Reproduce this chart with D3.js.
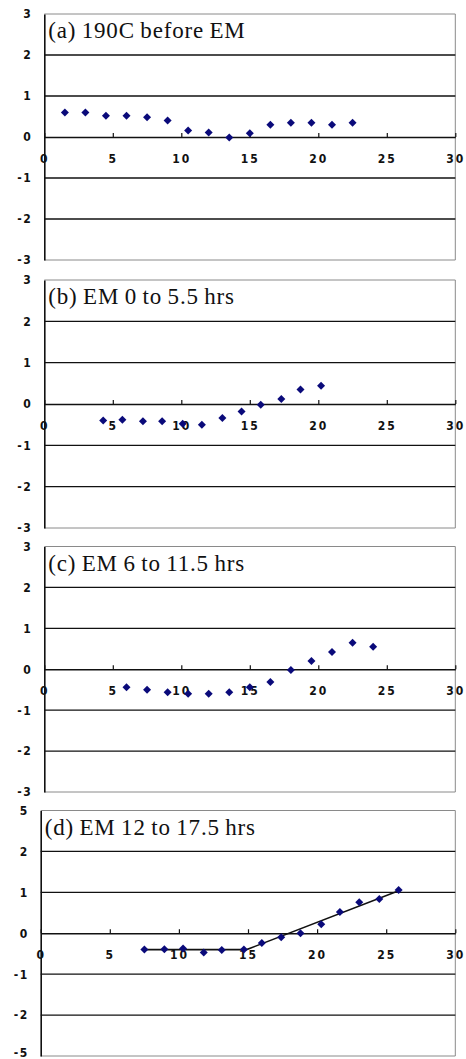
<!DOCTYPE html>
<html>
<head>
    <title>EM panels</title>
    <style type="text/css">
        body { margin: 0; background: #fff; }
        svg text.tick-lbl {
            font-family: "DejaVu Sans Condensed", "Liberation Sans", Arial, sans-serif;
            font-size: 12px;
            font-weight: bold;
            fill: #111;
        }
        svg text.title {
            font-family: "Liberation Serif", "DejaVu Serif", serif;
            font-size: 23px;
            letter-spacing: 0.8px;
            word-spacing: -1px;
            fill: #111;
        }
    </style>
</head>
<body>
<script src="https://cdnjs.cloudflare.com/ajax/libs/d3/7.8.5/d3.min.js"></script>
<script type="text/javascript">

    // tick values and their labels
    var xTicks = [0, 5, 10, 15, 20, 25, 30];
    var xTickLabels = ['0', '5', '10', '15', '20', '25', '30'];
    var yTicks = [3, 2, 1, 0, -1, -2, -3];
    var yTickLabels = ['3', '2', '1', '0', '-1', '-2', '-3'];
    var yTickLabelsD = ['5', '2', '1', '0', '-1', '-2', '-5'];   // as printed on panel (d)

    var titles = ['(a) 190C before EM', '(b) EM 0 to 5.5 hrs', '(c) EM 6 to 11.5 hrs', '(d) EM 12 to 17.5 hrs'];

    // (a) 190C before EM
    var xA = [1.5, 3, 4.5, 6, 7.5, 9, 10.5, 12, 13.5, 15, 16.5, 18, 19.5, 21, 22.5];
    var yA = [0.6, 0.6, 0.52, 0.52, 0.48, 0.4, 0.16, 0.11, -0.01, 0.09, 0.3, 0.35, 0.35, 0.3, 0.35];
    // (b) EM 0 to 5.5 hrs
    var xB = [4.3, 5.7, 7.2, 8.6, 10.1, 11.5, 13.0, 14.4, 15.8, 17.3, 18.7, 20.2];
    var yB = [-0.4, -0.38, -0.42, -0.42, -0.48, -0.5, -0.34, -0.18, -0.02, 0.12, 0.35, 0.44];
    // (c) EM 6 to 11.5 hrs
    var xC = [6, 7.5, 9, 10.5, 12, 13.5, 15, 16.5, 18, 19.5, 21, 22.5, 24];
    var yC = [-0.44, -0.5, -0.56, -0.6, -0.6, -0.56, -0.44, -0.31, -0.02, 0.2, 0.42, 0.65, 0.55];
    // (d) EM 12 to 17.5 hrs
    var xD = [7.5, 8.95, 10.3, 11.8, 13.1, 14.7, 16.0, 17.4, 18.8, 20.3, 21.65, 23.05, 24.5, 25.9];
    var yD = [-0.4, -0.39, -0.37, -0.47, -0.41, -0.4, -0.24, -0.1, 0.0, 0.22, 0.52, 0.76, 0.84, 1.06];
    // fitted line on (d)
    var fitX = [7.5, 14.9, 26];
    var fitY = [-0.4, -0.4, 1.05];

    var panels = [
        { title: titles[0], xs: xA, ys: yA, yLabels: yTickLabels, left: 44.3, top: 14, bottom: 260 },
        { title: titles[1], xs: xB, ys: yB, yLabels: yTickLabels, left: 44.3, top: 280, bottom: 528 },
        { title: titles[2], xs: xC, ys: yC, yLabels: yTickLabels, left: 44.3, top: 546.5, bottom: 792 },
        { title: titles[3], xs: xD, ys: yD, yLabels: yTickLabelsD, left: 40.7, top: 810.5, bottom: 1056,
          fitX: fitX, fitY: fitY }
    ];
    var right = 455.3;

    var svg = d3.select('body').append('svg')
        .attr('width', 466)
        .attr('height', 1059);

    svg.append('rect').attr('width', 466).attr('height', 1059).attr('fill', '#fff');

    var diamond = d3.symbol().type(d3.symbolSquare).size(32);

    panels.forEach(function (p, pi) {
        var x = d3.scaleLinear().domain([0, 30]).range([p.left, right]);
        var y = d3.scaleLinear().domain([-3, 3]).range([p.bottom, p.top]);
        var g = svg.append('g');

        // frame: grey top/right/bottom
        g.append('path')
            .attr('d', 'M' + x(0) + ',' + y(3) + 'H' + x(30) + 'V' + y(-3) + 'H' + x(0))
            .attr('fill', 'none')
            .attr('stroke', '#8a8a8a')
            .attr('stroke-width', 1);

        // horizontal gridlines
        g.selectAll('line.grid')
            .data([2, 1, -1, -2])
            .enter().append('line')
            .attr('class', 'grid')
            .attr('x1', x(0)).attr('x2', x(30))
            .attr('y1', function (d) { return y(d); })
            .attr('y2', function (d) { return y(d); })
            .attr('stroke', '#111')
            .attr('stroke-width', 1.4);

        // y axis
        var yAxis = d3.axisLeft(y)
            .tickValues(yTicks)
            .tickFormat(function (d, i) { return p.yLabels[i]; })
            .tickSizeInner(0)
            .tickSizeOuter(0)
            .tickPadding(12);
        var ya = g.append('g')
            .attr('transform', 'translate(' + x(0) + ',0)')
            .call(yAxis);
        ya.select('.domain').attr('stroke', '#111').attr('stroke-width', 1.6);
        ya.selectAll('text').attr('class', 'tick-lbl').attr('font-family', null).attr('font-size', null)
            .style('letter-spacing', '1.5px');
        // last panel: bottom label sits at the page edge, lift it a little
        if (pi === 3) {
            ya.selectAll('text').filter(function (d) { return d === -3; }).attr('dy', '0.05em');
        }

        // x axis at y = 0, ticks pointing up
        var xAxis = d3.axisBottom(x)
            .tickValues(xTicks)
            .tickFormat(function (d, i) { return xTickLabels[i]; })
            .tickSizeInner(-4)
            .tickSizeOuter(0)
            .tickPadding(17);
        var xa = g.append('g')
            .attr('transform', 'translate(0,' + y(0) + ')')
            .call(xAxis);
        xa.select('.domain').attr('stroke', '#111').attr('stroke-width', 1.4);
        xa.selectAll('.tick line').attr('stroke', '#111').attr('stroke-width', 1.2);
        xa.selectAll('text').attr('class', 'tick-lbl').attr('font-family', null).attr('font-size', null)
            .style('letter-spacing', '2px');

        // title
        g.append('text')
            .attr('class', 'title')
            .attr('x', x(0) + 4)
            .attr('y', y(3) + 24)
            .text(p.title);

        // fitted line
        if (p.fitX) {
            var line = d3.line()
                .x(function (d) { return x(d[0]); })
                .y(function (d) { return y(d[1]); });
            g.append('path')
                .datum(d3.zip(p.fitX, p.fitY))
                .attr('d', line)
                .attr('fill', 'none')
                .attr('stroke', '#111')
                .attr('stroke-width', 1.6);
        }

        // points
        g.selectAll('path.pt')
            .data(d3.zip(p.xs, p.ys))
            .enter().append('path')
            .attr('class', 'pt')
            .attr('d', diamond)
            .attr('transform', function (d) {
                return 'translate(' + x(d[0]) + ',' + y(d[1]) + ') rotate(45)';
            })
            .attr('fill', '#0a0a7a');
    });

</script>
</body>
</html>
